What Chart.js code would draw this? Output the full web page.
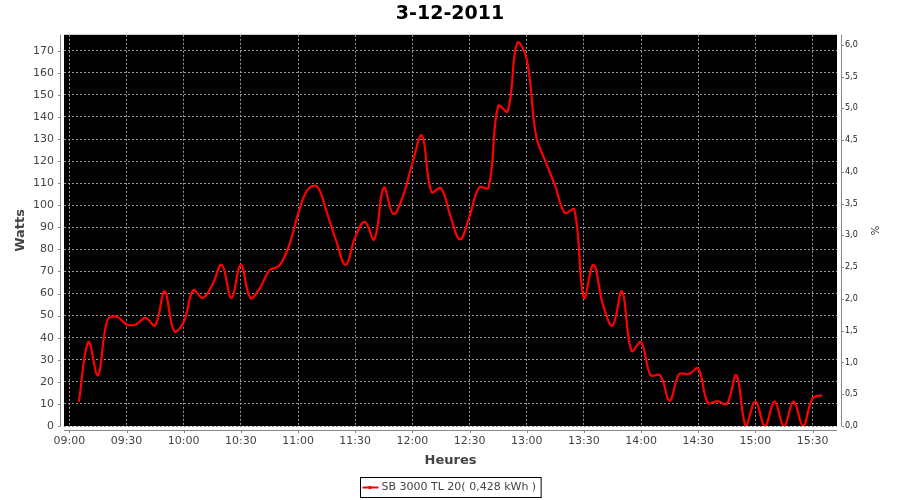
<!DOCTYPE html>
<html>
<head>
<meta charset="utf-8">
<script src="https://cdn.jsdelivr.net/npm/chart.js@4"></script>
<style>
  body { margin: 0; background: #fff; }
  #wrap { width: 900px; height: 500px; }
</style>
</head>
<body>
<div id="wrap"><canvas id="myChart" width="900" height="500"></canvas></div>
<script>
// minutes after 09:00, one reading every 5 minutes
const minutes = [5, 10, 15, 20, 25, 30, 35, 40, 45, 50, 55, 60, 65, 70, 75, 80, 85, 90, 95, 100,
  105, 110, 115, 120, 125, 130, 135, 140, 145, 150, 155, 160, 165, 170, 175, 180, 185, 190, 195, 200,
  205, 210, 215, 220, 225, 230, 235, 240, 245, 250, 255, 260, 265, 270, 275, 280, 285, 290, 295, 300,
  305, 310, 315, 320, 325, 330, 335, 340, 345, 350, 355, 360, 365, 370, 375, 380, 385, 390, 395];
const watts = [11, 38, 23, 48, 49.5, 46, 46, 49, 45.5, 61, 43, 47, 61.5, 58, 64, 73, 58, 73, 58, 62.5,
  70.5, 72.5, 81, 96, 107, 108.5, 97, 84, 73, 85.5, 92.5, 84.5, 108, 96, 104, 119, 131.5, 106, 107.7, 95,
  84.5, 95, 108, 108, 145, 142.5, 173.5, 166, 131, 119.5, 108.5, 96.5, 98, 58, 73, 55, 45.5, 61, 34, 38,
  23, 23, 11.5, 23.5, 23.5, 26, 10.5, 11.3, 10, 23, 0, 11, 0, 11, 0, 11, 0, 12.5, 14];
const xTicks = [0, 30, 60, 90, 120, 150, 180, 210, 240, 270, 300, 330, 360, 390];
const wattTicks = [0, 10, 20, 30, 40, 50, 60, 70, 80, 90, 100, 110, 120, 130, 140, 150, 160, 170];
const pctTicks = [0, 0.5, 1, 1.5, 2, 2.5, 3, 3.5, 4, 4.5, 5, 5.5, 6];
const seriesName = "SB 3000 TL 20( 0,428 kWh )";

const tickColor = "#444";
const axisColor = "#888";
const gridColor = "#9a9a9a";

function hhmm(v) {
  let h = 9 + Math.floor(v / 60);
  let m = v % 60;
  return (h < 10 ? "0" : "") + h + ":" + (m < 10 ? "0" : "") + m;
}

// black plot area, offset axis lines, tick marks and the boxed legend
const jfreeLook = {
  id: "jfreeLook",
  beforeDraw(chart) {
    const ctx = chart.ctx;
    const a = chart.chartArea;
    ctx.save();
    ctx.fillStyle = "#fff";
    ctx.fillRect(0, 0, chart.width, chart.height);
    ctx.fillStyle = "#000";
    ctx.fillRect(a.left, a.top, a.right - a.left, a.bottom - a.top);
    ctx.restore();
  },
  afterDraw(chart) {
    const ctx = chart.ctx;
    const a = chart.chartArea;
    const x = chart.scales.x, y = chart.scales.y, y1 = chart.scales.y1;
    ctx.save();
    ctx.strokeStyle = axisColor;
    ctx.lineWidth = 1;
    ctx.beginPath();
    // left axis
    ctx.moveTo(a.left - 3.5, a.top); ctx.lineTo(a.left - 3.5, a.bottom);
    y.ticks.forEach(t => {
      let p = Math.round(y.getPixelForValue(t.value)) + 0.5;
      ctx.moveTo(a.left - 6, p); ctx.lineTo(a.left - 3.5, p);
    });
    // bottom axis
    ctx.moveTo(a.left, a.bottom + 4.5); ctx.lineTo(a.right, a.bottom + 4.5);
    x.ticks.forEach(t => {
      let p = Math.round(x.getPixelForValue(t.value)) + 0.5;
      ctx.moveTo(p, a.bottom + 4.5); ctx.lineTo(p, a.bottom + 7);
    });
    // right axis
    ctx.moveTo(a.right + 4.5, a.top); ctx.lineTo(a.right + 4.5, a.bottom);
    y1.ticks.forEach(t => {
      let p = Math.round(y1.getPixelForValue(t.value)) + 0.5;
      ctx.moveTo(a.right + 4.5, p); ctx.lineTo(a.right + 7, p);
    });
    ctx.stroke();

    // legend
    ctx.font = "11px 'DejaVu Sans'";
    let tw = ctx.measureText(seriesName).width;
    let bw = 2 + 16 + 3 + tw + 5;
    let bx = Math.round((a.left + a.right) / 2 - bw / 2) + 0.5;
    let by = 477.5, bh = 20;
    ctx.strokeStyle = "#000";
    ctx.strokeRect(bx, by, bw, bh);
    ctx.strokeStyle = "#ff0000";
    ctx.lineWidth = 2;
    ctx.beginPath();
    ctx.moveTo(bx + 2, by + bh / 2); ctx.lineTo(bx + 18, by + bh / 2);
    ctx.stroke();
    ctx.fillStyle = "#ff0000";
    ctx.fillRect(bx + 8, by + bh / 2 - 1.5, 3, 3);
    ctx.fillStyle = tickColor;
    ctx.textBaseline = "middle";
    ctx.fillText(seriesName, bx + 21, by + bh / 2);
    ctx.restore();
  }
};

const ctx = document.getElementById("myChart");
new Chart(ctx, {
  type: "line",
  data: {
    datasets: [
      {
        label: seriesName,
        data: minutes.map((m, i) => ({ x: m, y: watts[i] })),
        borderColor: "#ff0000",
        borderWidth: 2.2,
        pointRadius: 0,
        tension: 0.4,
        fill: false,
        yAxisID: "y",
      },
    ],
  },
  options: {
    responsive: false,
    animation: false,
    layout: { padding: 0 },
    plugins: {
      legend: { display: false },
      tooltip: { enabled: false },
      title: {
        display: true,
        text: "3-12-2011",
        color: "#000",
        font: { family: "'DejaVu Sans'", size: 19, weight: "bold" },
        padding: { top: 3, bottom: 9 },
      },
    },
    scales: {
      x: {
        type: "linear",
        min: -2.8,
        max: 402.8,
        afterBuildTicks: (s) => { s.ticks = xTicks.map(v => ({ value: v })); },
        afterFit: (s) => { s.height = 74; },
        grid: { color: gridColor, drawTicks: false },
        border: { display: false, dash: [2, 2] },
        ticks: {
          color: tickColor,
          padding: 9,
          maxRotation: 0,
          autoSkip: false,
          font: { family: "'DejaVu Sans'", size: 11 },
          callback: (v) => hhmm(v),
        },
        title: {
          display: true,
          text: "Heures",
          color: tickColor,
          font: { family: "'DejaVu Sans'", size: 13, weight: "bold" },
          padding: { top: 0, bottom: 32 },
        },
      },
      y: {
        position: "left",
        min: 0,
        max: 177.2,
        afterBuildTicks: (s) => { s.ticks = wattTicks.map(v => ({ value: v })); },
        afterFit: (s) => { s.width = 64; },
        grid: { color: gridColor, drawTicks: false },
        border: { display: false, dash: [2, 2] },
        ticks: {
          color: tickColor,
          padding: 10,
          font: { family: "'DejaVu Sans'", size: 11 },
        },
        title: {
          display: true,
          text: "Watts",
          color: tickColor,
          font: { family: "'DejaVu Sans'", size: 13, weight: "bold" },
          padding: { top: 13, bottom: 0 },
        },
      },
      y1: {
        position: "right",
        display: true,
        min: 0,
        max: 6.157,
        afterBuildTicks: (s) => { s.ticks = pctTicks.map(v => ({ value: v })); },
        afterFit: (s) => { s.width = 63; },
        grid: { display: false, drawTicks: false },
        border: { display: false },
        ticks: {
          color: "#222",
          padding: 8,
          font: { family: "'DejaVu Sans'", size: 8 },
          callback: (v) => v.toFixed(1).replace(".", ","),
        },
        title: {
          display: true,
          text: "%",
          color: "#222",
          font: { family: "'DejaVu Sans'", size: 10 },
          padding: { top: 20, bottom: 0 },
        },
      },
    },
  },
  plugins: [jfreeLook],
});
</script>
</body>
</html>
